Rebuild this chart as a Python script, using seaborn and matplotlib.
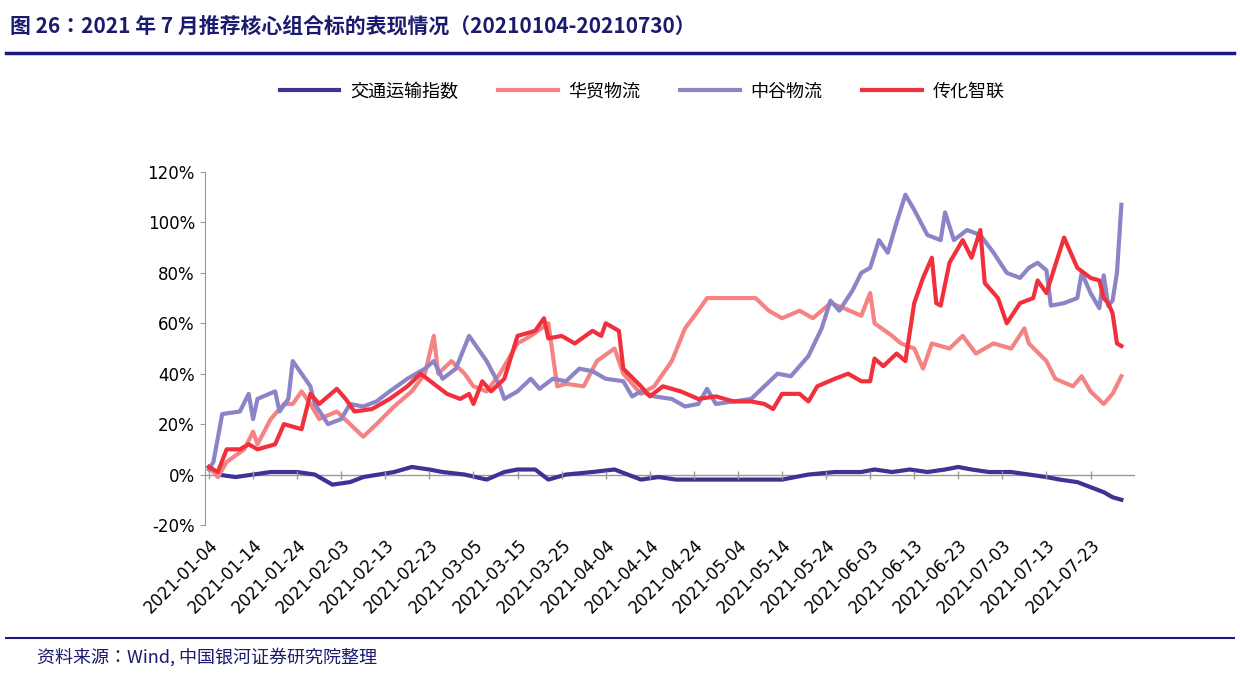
import matplotlib
matplotlib.use("Agg")
import matplotlib.pyplot as plt
import seaborn as sns
import pandas as pd

plt.rcParams["font.family"] = ["Noto Sans CJK JP", "Noto Sans CJK SC", "DejaVu Sans"]
plt.rcParams["axes.unicode_minus"] = False

series_names = ["交通运输指数", "华贸物流", "中谷物流", "传化智联"]
colors = ["#3D3394", "#F58383", "#8B84C6", "#F2303C"]

jt_dates = ["01-04","01-06","01-10","01-14","01-18","01-24","01-28","02-01","02-05","02-08","02-15","02-19","02-23","02-26","03-03","03-08","03-12","03-15","03-19","03-22","03-26","04-01","04-06","04-09","04-12","04-16","04-20","04-26","05-03","05-10","05-14","05-20","05-26","06-01","06-04","06-08","06-12","06-16","06-20","06-23","06-26","06-30","07-05","07-09","07-13","07-16","07-20","07-23","07-26","07-28","07-30"]
jt_vals = [3,0,-1,0,1,1,0,-4,-3,-1,1,3,2,1,0,-2,1,2,2,-2,0,1,2,0,-2,-1,-2,-2,-2,-2,-2,0,1,1,2,1,2,1,2,3,2,1,1,0,-1,-2,-3,-5,-7,-9,-10]

hm_dates = ["01-04","01-06","01-08","01-12","01-14","01-15","01-18","01-21","01-23","01-25","01-27","01-29","02-02","02-05","02-08","02-11","02-15","02-19","02-22","02-24","02-25","02-28","03-03","03-05","03-08","03-11","03-15","03-18","03-22","03-24","03-26","03-30","04-02","04-06","04-08","04-12","04-15","04-19","04-22","04-25","04-27","05-01","05-05","05-08","05-11","05-14","05-18","05-21","05-25","05-28","06-01","06-03","06-04","06-08","06-10","06-13","06-15","06-17","06-21","06-24","06-27","07-01","07-05","07-08","07-09","07-13","07-15","07-19","07-21","07-23","07-26","07-28","07-30"]
hm_vals = [3,-1,5,10,17,12,22,28,28,33,28,22,25,20,15,20,27,33,40,55,40,45,40,35,33,40,52,55,60,35,36,35,45,50,40,32,35,45,58,65,70,70,70,70,65,62,65,62,68,66,63,72,60,55,52,50,42,52,50,55,48,52,50,58,52,45,38,35,39,33,28,32,39]

zg_dates = ["01-04","01-05","01-07","01-11","01-13","01-14","01-15","01-19","01-20","01-22","01-23","01-27","01-28","01-31","02-03","02-05","02-08","02-11","02-14","02-18","02-22","02-24","02-26","03-01","03-04","03-08","03-11","03-12","03-15","03-18","03-20","03-23","03-26","03-29","04-01","04-04","04-08","04-10","04-12","04-15","04-19","04-22","04-25","04-27","04-29","05-03","05-07","05-10","05-13","05-16","05-20","05-23","05-25","05-27","05-30","06-01","06-03","06-05","06-07","06-09","06-11","06-13","06-16","06-19","06-20","06-22","06-25","06-28","07-01","07-04","07-07","07-09","07-11","07-13","07-14","07-17","07-20","07-21","07-23","07-25","07-26","07-27","07-28","07-29","07-30"]
zg_vals = [2,5,24,25,32,22,30,33,25,30,45,35,28,20,22,28,27,29,33,38,42,45,38,42,55,45,35,30,33,38,34,38,37,42,41,38,37,31,33,31,30,27,28,34,28,29,30,35,40,39,47,58,69,65,73,80,82,93,88,100,111,105,95,93,104,93,97,95,88,80,78,82,84,81,67,68,70,80,72,66,79,67,69,80,107]

ch_dates = ["01-04","01-06","01-08","01-11","01-13","01-15","01-19","01-21","01-25","01-27","01-29","02-02","02-04","02-06","02-10","02-14","02-18","02-21","02-24","02-27","03-02","03-04","03-05","03-07","03-09","03-12","03-15","03-19","03-21","03-22","03-25","03-28","04-01","04-03","04-04","04-07","04-08","04-12","04-14","04-17","04-21","04-25","04-29","05-03","05-07","05-10","05-12","05-14","05-18","05-20","05-22","05-26","05-29","06-01","06-03","06-04","06-06","06-09","06-11","06-13","06-15","06-17","06-18","06-19","06-21","06-24","06-26","06-28","06-29","07-02","07-04","07-07","07-10","07-11","07-13","07-17","07-20","07-23","07-25","07-26","07-27","07-28","07-29","07-30"]
ch_vals = [3,1,10,10,12,10,12,20,18,32,28,34,30,25,26,30,35,40,36,32,30,32,28,37,33,38,55,57,62,54,55,52,57,55,60,57,42,35,31,35,33,30,31,29,29,28,26,32,32,29,35,38,40,37,37,46,43,48,45,68,78,86,68,67,84,93,86,97,76,70,60,68,70,77,72,94,82,78,77,70,68,64,52,51]

frames = []
for name, d, v in zip(series_names, [jt_dates, hm_dates, zg_dates, ch_dates], [jt_vals, hm_vals, zg_vals, ch_vals]):
    frames.append(pd.DataFrame({"date": pd.to_datetime(["2021-" + x for x in d]), "val": v, "series": name}))
df = pd.concat(frames)

fig = plt.figure(figsize=(12.4, 6.8), dpi=100)
ax = fig.add_axes([0.165, 0.228, 0.75, 0.519])
sns.lineplot(data=df, x="date", y="val", hue="series", hue_order=series_names,
             palette=colors, linewidth=3, ax=ax, legend=False)

ax.set_ylim(-20, 120)
ax.set_yticks(range(-20, 121, 20))
ax.set_yticklabels([f"{v}%" for v in range(-20, 121, 20)], fontsize=12, fontfamily="DejaVu Sans")
ticks = pd.date_range("2021-01-04", "2021-07-30", freq="10D")
ax.set_xticks(ticks)
ax.set_xticklabels([t.strftime("%Y-%m-%d") for t in ticks], rotation=45, ha="right",
                   rotation_mode="anchor", fontsize=12, fontfamily="DejaVu Sans")
ax.set_xlim(pd.Timestamp("2021-01-03"), pd.Timestamp("2021-08-02"))
ax.axhline(0, color="#999999", lw=1, zorder=0)
ax.plot(ticks, [0]*len(ticks), "|", color="#999999", ms=6)
for s in ["top", "right", "bottom"]:
    ax.spines[s].set_visible(False)
ax.spines["left"].set_color("#999999")
ax.tick_params(axis="x", length=0, pad=8)
ax.tick_params(axis="y", color="#999999")
ax.set_xlabel(""); ax.set_ylabel("")

handles = [plt.Line2D([], [], color=c, lw=3) for c in colors]
fig.legend(handles, series_names, loc="center", bbox_to_anchor=(0.518, 0.865), ncol=4,
           frameon=False, fontsize=13, handlelength=3.3, columnspacing=2.2, handletextpad=0.6)

fig.text(0.008, 0.962, "图 26：2021 年 7 月推荐核心组合标的表现情况（20210104-20210730）",
         fontsize=15, fontweight="bold", color="#1a1a6e", va="center")
fig.add_artist(plt.Line2D([0.005, 0.995], [0.922, 0.922], color="#1a1a80", lw=2.5))
fig.add_artist(plt.Line2D([0.005, 0.995], [0.062, 0.062], color="#1a1a80", lw=1.5))
fig.text(0.03, 0.033, "资料来源：Wind, 中国银河证券研究院整理", fontsize=13, style="italic",
         color="#1a1a6e", va="center")

fig.savefig("out.png", dpi=100)
